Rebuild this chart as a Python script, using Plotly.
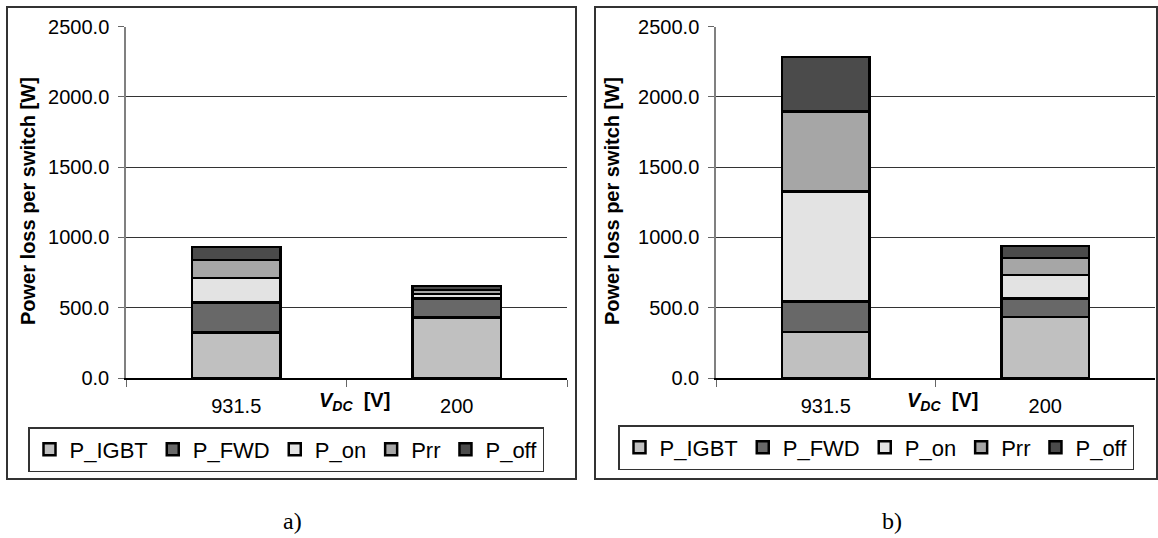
import plotly.graph_objects as go

# ---------------- data ----------------
categories = ["931.5", "200"]
series_names = ["P_IGBT", "P_FWD", "P_on", "Prr", "P_off"]

# panel a)
a_P_IGBT = [325, 432]
a_P_FWD = [214, 133]
a_P_on = [173, 32]
a_Prr = [128, 28]
a_P_off = [92, 30]

# panel b)
b_P_IGBT = [328, 435]
b_P_FWD = [216, 130]
b_P_on = [784, 168]
b_Prr = [568, 120]
b_P_off = [390, 85]

y_ticks = [0, 500, 1000, 1500, 2000, 2500]
y_title = "Power loss per switch [W]"
panel_labels = ["a)", "b)"]

# ---------------- styling ----------------
colors = ["#c0c0c0", "#686868", "#e3e3e3", "#a6a6a6", "#4b4b4b"]
FONT = "Liberation Sans, Arial, sans-serif"
W, H = 1158, 538

def px(x):
    return x / W

def py(y):
    return 1 - y / H

fig = go.Figure()

panel_a = [a_P_IGBT, a_P_FWD, a_P_on, a_Prr, a_P_off]
panel_b = [b_P_IGBT, b_P_FWD, b_P_on, b_Prr, b_P_off]

for name, vals, col in zip(series_names, panel_a, colors):
    fig.add_trace(go.Bar(
        x=categories, y=vals, name=name, xaxis="x", yaxis="y",
        marker=dict(color=col, line=dict(color="black", width=2.5)),
        legend="legend", hoverinfo="name+y",
    ))
for name, vals, col in zip(series_names, panel_b, colors):
    fig.add_trace(go.Bar(
        x=categories, y=vals, name=name, xaxis="x2", yaxis="y2",
        marker=dict(color=col, line=dict(color="black", width=2.5)),
        legend="legend2", hoverinfo="name+y",
    ))

ydom = [py(378), py(26.7)]

xaxis_common = dict(
    type="category", tickson="boundaries", ticks="outside", ticklen=7,
    tickcolor="#666", showline=True, linecolor="black", linewidth=1.5,
    showgrid=False, tickfont=dict(family=FONT, size=20, color="black"),
    ticklabelstandoff=9, fixedrange=True, automargin=False,
)
yaxis_common = dict(
    range=[0, 2500], tickvals=y_ticks, tickformat=".1f", ticks="outside",
    ticklen=6, tickcolor="#666", showline=True, linecolor="#808080",
    linewidth=1.5, showgrid=True, gridcolor="#333", gridwidth=1,
    zeroline=False, tickfont=dict(family=FONT, size=20, color="black"),
    ticklabelstandoff=5, fixedrange=True, automargin=False,
)

legend_common = dict(
    orientation="h", xanchor="left", yanchor="top",
    bordercolor="#333", borderwidth=1.5, bgcolor="white",
    font=dict(family=FONT, size=22, color="black"), traceorder="normal",
    itemwidth=30,
)

fig.update_layout(
    width=W, height=H,
    margin=dict(l=0, r=0, t=0, b=0, pad=0, autoexpand=False),
    paper_bgcolor="white", plot_bgcolor="white",
    barmode="stack", bargap=0.6,
    xaxis=dict(domain=[px(126), px(567)], anchor="y", **xaxis_common),
    yaxis=dict(domain=ydom, anchor="x", **yaxis_common),
    xaxis2=dict(domain=[px(716), px(1155)], anchor="y2", **xaxis_common),
    yaxis2=dict(domain=ydom, anchor="x2", **yaxis_common),
    legend=dict(x=px(28), y=py(427), **legend_common),
    legend2=dict(x=px(618), y=py(425), **legend_common),
    showlegend=True,
)

vdc = "<b><i>V</i></b><b><i><sub>DC</sub></i></b><b>  [V]</b>"
ytitle_html = "<b>" + y_title + "</b>"
annotations = [
    dict(text=ytitle_html, textangle=-90, x=px(28), y=py(201), xref="paper", yref="paper",
         showarrow=False, font=dict(family=FONT, size=20, color="black"), xanchor="center", yanchor="middle"),
    dict(text=ytitle_html, textangle=-90, x=px(612), y=py(201), xref="paper", yref="paper",
         showarrow=False, font=dict(family=FONT, size=20, color="black"), xanchor="center", yanchor="middle"),
    dict(text=vdc, x=px(354), y=py(401), xref="paper", yref="paper", showarrow=False,
         font=dict(family=FONT, size=20, color="black"), xanchor="center", yanchor="middle"),
    dict(text=vdc, x=px(942), y=py(401), xref="paper", yref="paper", showarrow=False,
         font=dict(family=FONT, size=20, color="black"), xanchor="center", yanchor="middle"),
    dict(text=panel_labels[0], x=px(292), y=py(521), xref="paper", yref="paper", showarrow=False,
         font=dict(family="Liberation Serif, Times New Roman, serif", size=24, color="black"),
         xanchor="center", yanchor="middle"),
    dict(text=panel_labels[1], x=px(892), y=py(521), xref="paper", yref="paper", showarrow=False,
         font=dict(family="Liberation Serif, Times New Roman, serif", size=24, color="black"),
         xanchor="center", yanchor="middle"),
]
fig.update_layout(annotations=annotations)

shapes = [
    dict(type="rect", xref="paper", yref="paper", x0=px(7), x1=px(576), y0=py(479), y1=py(7),
         line=dict(color="#333", width=2), fillcolor="rgba(0,0,0,0)", layer="below"),
    dict(type="rect", xref="paper", yref="paper", x0=px(595), x1=px(1157), y0=py(479), y1=py(7),
         line=dict(color="#333", width=2), fillcolor="rgba(0,0,0,0)", layer="below"),
]
fig.update_layout(shapes=shapes)

fig.write_html(
    "out.html",
    config={"displayModeBar": False},
    post_script="document.body.style.margin='0';document.body.style.padding='0';document.body.style.overflow='hidden';",
)
